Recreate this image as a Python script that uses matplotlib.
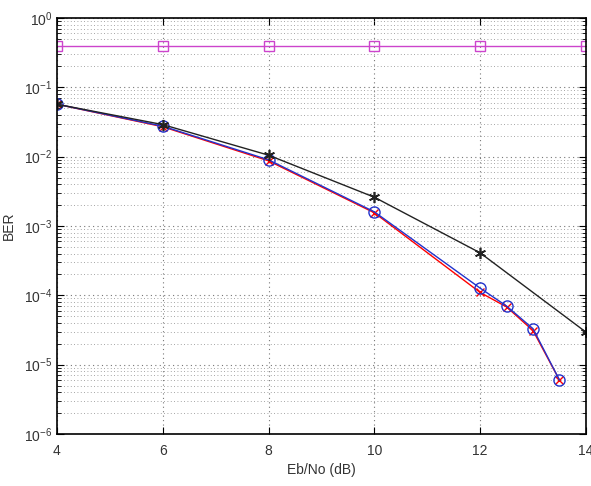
import matplotlib
matplotlib.use("Agg")
import matplotlib.pyplot as plt
from matplotlib.ticker import LogLocator, NullFormatter

plt.rcParams['font.family'] = ['Liberation Sans', 'DejaVu Sans']
plt.rcParams['mathtext.fontset'] = 'custom'
plt.rcParams['mathtext.rm'] = 'Liberation Sans'

# Data
ebno_flat = [4, 6, 8, 10, 12, 14]
ber_flat = [0.4, 0.4, 0.4, 0.4, 0.4, 0.4]

ebno_star = [4, 6, 8, 10, 12, 14]
ber_star = [0.057, 0.029, 0.0105, 0.0026, 0.00041, 2.95e-5]

ebno_circ = [4, 6, 8, 10, 12, 12.5, 13, 13.5]
ber_circ = [0.057, 0.0275, 0.0090, 0.00160, 1.27e-4, 7.0e-5, 3.3e-5, 6.0e-6]

ebno_cross = [4, 6, 8, 10, 12, 12.5, 13, 13.5]
ber_cross = [0.057, 0.027, 0.0087, 0.00155, 1.10e-4, 6.8e-5, 3.1e-5, 6.0e-6]

fig = plt.figure(figsize=(5.91, 4.86), dpi=100)
ax = fig.add_axes([0.0964, 0.107, 0.895, 0.856])

ax.semilogy(ebno_flat, ber_flat, color='#cc44cc', marker='s', mfc='none', ms=7, lw=1)
ax.semilogy(ebno_cross, ber_cross, color='red', marker='x', ms=6, lw=1)
ax.semilogy(ebno_circ, ber_circ, color='#2233cc', marker='o', mfc='none', ms=8, lw=1)
ax.semilogy(ebno_star, ber_star, color='#222222', marker=(6, 2, 0), ms=8, mew=1.2, lw=1)

ax.set_xlim(4, 14)
ax.set_ylim(1e-6, 1)
ax.set_xticks([4, 6, 8, 10, 12, 14])
ax.yaxis.set_major_locator(LogLocator(base=10, numticks=10))
ax.yaxis.set_minor_locator(LogLocator(base=10, subs=range(2, 10), numticks=20))
ax.yaxis.set_minor_formatter(NullFormatter())

ax.grid(True, which='major', axis='both', linestyle=(0, (1, 3)), color='#777777', lw=0.8)
ax.grid(True, which='minor', axis='y', linestyle=(0, (1, 3)), color='#888888', lw=0.6)
ax.tick_params(direction='in', which='both', top=True, right=True, labelsize=10,
               colors='black', labelcolor='#333333')
ax.tick_params(which='major', length=5)
ax.tick_params(axis='x', pad=7)
ax.tick_params(which='minor', length=3)
for s in ax.spines.values():
    s.set_linewidth(1.2)

ax.set_xlabel('Eb/No (dB)', fontsize=10, color='#333333', labelpad=4)
ax.set_ylabel('BER', fontsize=10, color='#333333', labelpad=6)

fig.savefig('out.png', dpi=100)
